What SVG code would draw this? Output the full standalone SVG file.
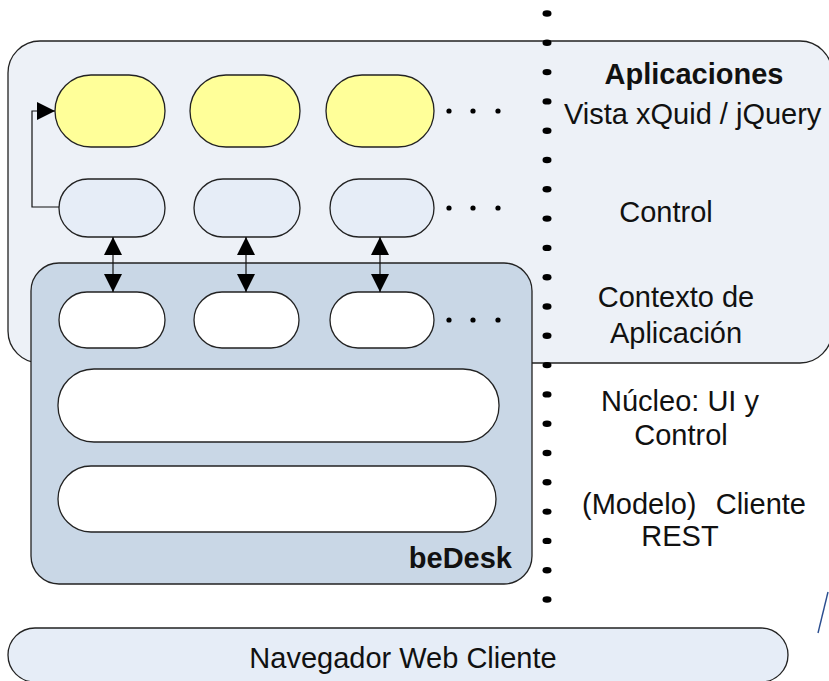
<svg xmlns="http://www.w3.org/2000/svg" width="829" height="681" viewBox="0 0 829 681">
  <style>
    .box { stroke: #222; stroke-width: 1.3; }
    .outer { fill: #edf1f7; }
    .bedesk { fill: #c9d7e6; }
    .view { fill: #ffff99; }
    .ctrl { fill: #e6edf7; }
    .plain { fill: #ffffff; }
    .lbl { font-family: "Liberation Sans", Arial, sans-serif; font-size: 29px; fill: #111; }
    .bold { font-weight: bold; }
    .mid { text-anchor: middle; }
    .conn { fill: none; stroke: #111; stroke-width: 1.2; }
    .dot { fill: #000; }
  </style>
  <defs>
    <marker id="arrow" viewBox="0 0 18 18" refX="18" refY="9" markerWidth="18" markerHeight="18" markerUnits="userSpaceOnUse" orient="auto-start-reverse">
      <path d="M0,0 L18,9 L0,18 Z" fill="#000"/>
    </marker>
  </defs>

  <!-- Application layer container -->
  <g id="aplicaciones">
    <rect class="box outer" x="8" y="41" width="824" height="322" rx="32"/>
    <text class="lbl bold mid" x="694" y="84">Aplicaciones</text>
  </g>

  <!-- beDesk container -->
  <g id="bedesk">
    <rect class="box bedesk" x="31" y="263" width="501" height="321" rx="28"/>
    <text class="lbl bold" x="512" y="568" text-anchor="end">beDesk</text>
  </g>

  <!-- View row -->
  <g id="vista-1"><rect class="box view" x="55" y="75" width="110" height="72" rx="36"/></g>
  <g id="vista-2"><rect class="box view" x="190" y="75" width="110" height="72" rx="36"/></g>
  <g id="vista-3"><rect class="box view" x="326" y="75" width="108" height="72" rx="36"/></g>

  <!-- Control row -->
  <g id="control-1"><rect class="box ctrl" x="59" y="179" width="106" height="58" rx="29"/></g>
  <g id="control-2"><rect class="box ctrl" x="194" y="179" width="106" height="58" rx="29"/></g>
  <g id="control-3"><rect class="box ctrl" x="330" y="179" width="104" height="58" rx="29"/></g>

  <!-- Application context row -->
  <g id="contexto-1"><rect class="box plain" x="59" y="292" width="106" height="56" rx="28"/></g>
  <g id="contexto-2"><rect class="box plain" x="194" y="292" width="105" height="56" rx="28"/></g>
  <g id="contexto-3"><rect class="box plain" x="330" y="292" width="104" height="56" rx="28"/></g>

  <!-- Core and REST client -->
  <g id="nucleo"><rect class="box plain" x="58" y="369" width="441" height="73" rx="36"/></g>
  <g id="cliente-rest"><rect class="box plain" x="58" y="466" width="438" height="66" rx="33"/></g>

  <!-- Browser -->
  <g id="navegador">
    <rect class="box ctrl" x="8" y="628" width="780" height="54" rx="27"/>
    <text class="lbl mid" x="403" y="668">Navegador Web Cliente</text>
  </g>

  <!-- Ellipses after each row -->
  <g id="mas-filas">
    <circle class="dot" cx="449" cy="111" r="2.6"/>
    <circle class="dot" cx="473" cy="111" r="2.6"/>
    <circle class="dot" cx="498" cy="111" r="2.6"/>
    <circle class="dot" cx="449" cy="208" r="2.6"/>
    <circle class="dot" cx="473" cy="208" r="2.6"/>
    <circle class="dot" cx="498" cy="208" r="2.6"/>
    <circle class="dot" cx="449" cy="320" r="2.6"/>
    <circle class="dot" cx="473" cy="320" r="2.6"/>
    <circle class="dot" cx="498" cy="320" r="2.6"/>
  </g>

  <!-- Dotted divider -->
  <g id="divisor">
    <ellipse class="dot" cx="547" cy="13.5" rx="4.5" ry="3.2"/>
    <ellipse class="dot" cx="547" cy="42.8" rx="4.5" ry="3.2"/>
    <ellipse class="dot" cx="547" cy="72.1" rx="4.5" ry="3.2"/>
    <ellipse class="dot" cx="547" cy="101.4" rx="4.5" ry="3.2"/>
    <ellipse class="dot" cx="547" cy="130.7" rx="4.5" ry="3.2"/>
    <ellipse class="dot" cx="547" cy="160" rx="4.5" ry="3.2"/>
    <ellipse class="dot" cx="547" cy="189.3" rx="4.5" ry="3.2"/>
    <ellipse class="dot" cx="547" cy="218.6" rx="4.5" ry="3.2"/>
    <ellipse class="dot" cx="547" cy="247.9" rx="4.5" ry="3.2"/>
    <ellipse class="dot" cx="547" cy="277.2" rx="4.5" ry="3.2"/>
    <ellipse class="dot" cx="547" cy="306.5" rx="4.5" ry="3.2"/>
    <ellipse class="dot" cx="547" cy="335.8" rx="4.5" ry="3.2"/>
    <ellipse class="dot" cx="547" cy="365.1" rx="4.5" ry="3.2"/>
    <ellipse class="dot" cx="547" cy="394.4" rx="4.5" ry="3.2"/>
    <ellipse class="dot" cx="547" cy="423.7" rx="4.5" ry="3.2"/>
    <ellipse class="dot" cx="547" cy="453" rx="4.5" ry="3.2"/>
    <ellipse class="dot" cx="547" cy="482.3" rx="4.5" ry="3.2"/>
    <ellipse class="dot" cx="547" cy="511.6" rx="4.5" ry="3.2"/>
    <ellipse class="dot" cx="547" cy="540.9" rx="4.5" ry="3.2"/>
    <ellipse class="dot" cx="547" cy="570.2" rx="4.5" ry="3.2"/>
    <ellipse class="dot" cx="547" cy="599.5" rx="4.5" ry="3.2"/>
  </g>

  <!-- Layer labels -->
  <g id="capas">
    <text class="lbl" x="564" y="124">Vista xQuid / jQuery</text>
    <text class="lbl mid" x="666" y="222">Control</text>
    <text class="lbl mid" x="676" y="307">Contexto de</text>
    <text class="lbl mid" x="676" y="343">Aplicación</text>
    <text class="lbl mid" x="680" y="411">Núcleo: UI y</text>
    <text class="lbl mid" x="681" y="445">Control</text>
    <text class="lbl"><tspan x="582" y="514">(Modelo)</tspan><tspan x="806" y="514" text-anchor="end">Cliente</tspan></text>
    <text class="lbl mid" x="680" y="546">REST</text>
  </g>

  <!-- Connectors -->
  <g id="conectores">
    <path class="conn" d="M59,207 H32 V111 H55" marker-end="url(#arrow)"/>
    <line class="conn" x1="113" y1="237" x2="113" y2="292" marker-start="url(#arrow)" marker-end="url(#arrow)"/>
    <line class="conn" x1="246" y1="237" x2="246" y2="292" marker-start="url(#arrow)" marker-end="url(#arrow)"/>
    <line class="conn" x1="380" y1="237" x2="380" y2="292" marker-start="url(#arrow)" marker-end="url(#arrow)"/>
    <line x1="828" y1="592" x2="818" y2="633" stroke="#2a4d8f" stroke-width="1.4"/>
  </g>
</svg>
